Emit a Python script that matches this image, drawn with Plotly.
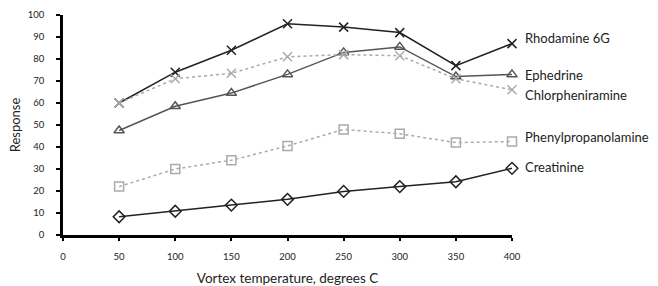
import plotly.graph_objects as go

temps = [50, 100, 150, 200, 250, 300, 350, 400]
rhodamine = [60, 74, 84, 96, 94.5, 92, 77, 87]
ephedrine = [47.5, 58.5, 64.5, 73, 83, 85.5, 72, 73]
chlorphen = [60, 71, 73.5, 81, 82, 81.5, 71, 66]
phenylprop = [22, 30, 34, 40.5, 48, 46, 42, 42.5]
creatinine = [8.3, 10.8, 13.6, 16.2, 19.8, 22, 24.2, 30.3]

series = [
    ("Rhodamine 6G", rhodamine, "#222222", "solid", "x-thin-open", 89.5),
    ("Ephedrine", ephedrine, "#555555", "solid", "triangle-up-open", 72.7),
    ("Chlorpheniramine", chlorphen, "#aaaaaa", "dot", "x-thin-open", 63.6),
    ("Phenylpropanolamine", phenylprop, "#aaaaaa", "dot", "square-open", 44.5),
    ("Creatinine", creatinine, "#222222", "solid", "diamond-open", 31),
]

fig = go.Figure()
for name, vals, col, dash, sym, ly in series:
    fig.add_trace(go.Scatter(
        x=temps, y=vals, mode="lines+markers", name=name,
        line=dict(color=col, width=1.5, dash=dash),
        marker=dict(symbol=sym, size=9, color=col, line=dict(width=1.5, color=col)),
        cliponaxis=False,
    ))
    fig.add_annotation(x=400, y=ly, xref="x", yref="y", text=name, showarrow=False,
                       xanchor="left", yanchor="middle", xshift=11,
                       font=dict(family="Lato", size=13, color="#222222"))

fig.update_layout(
    width=658, height=286,
    margin=dict(l=63, r=146, t=15, b=51),
    paper_bgcolor="white", plot_bgcolor="white",
    showlegend=False,
    font=dict(family="Lato", size=10, color="#222222"),
)
fig.update_xaxes(
    range=[0, 400], tickvals=[0, 50, 100, 150, 200, 250, 300, 350, 400],
    automargin=False,
    showgrid=False, zeroline=False, showline=True, linecolor="black", linewidth=2.5,
    ticks="outside", ticklen=3, tickwidth=2, tickcolor="black",
    title=dict(text="Vortex temperature, degrees C", font=dict(size=13.5), standoff=14),
    tickfont=dict(size=9.5), ticklabelstandoff=8,
)
fig.update_yaxes(
    range=[0, 100], dtick=10,
    automargin=False,
    showgrid=False, zeroline=False, showline=True, linecolor="black", linewidth=2.5,
    ticks="outside", ticklen=4, tickwidth=2, tickcolor="black",
    title=dict(text="Response", font=dict(size=13), standoff=5),
    tickfont=dict(size=9.5), ticklabelstandoff=10,
)
fig.write_html("out.html", config={"displayModeBar": False},
               post_script="document.body.style.margin='0';")
